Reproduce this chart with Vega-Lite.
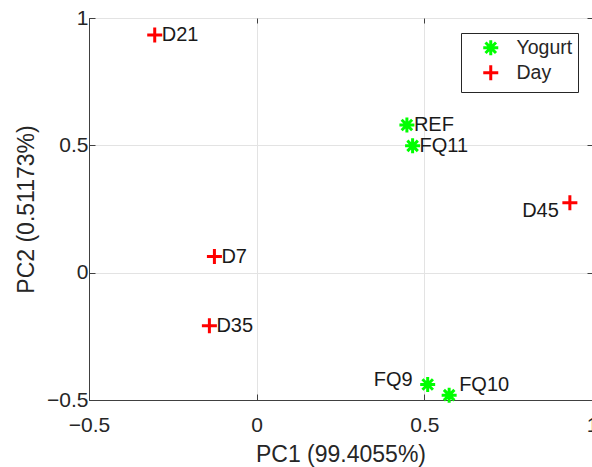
{
  "$schema": "https://vega.github.io/schema/vega-lite/v6.json",
  "width": 503,
  "height": 382,
  "autosize": {"type": "none"},
  "padding": {"left": 89, "top": 18, "right": 0, "bottom": 67},
  "background": "white",
  "config": {
    "font": "Liberation Sans",
    "view": {"stroke": "#404040", "strokeWidth": 1},
    "axis": {
      "domainColor": "#404040",
      "tickColor": "#404040",
      "labelColor": "#262626",
      "titleColor": "#262626",
      "gridColor": "#e3e3e3",
      "labelFontSize": 21,
      "titleFontSize": 23,
      "titleFontWeight": "normal",
      "labelFont": "Liberation Sans",
      "titleFont": "Liberation Sans"
    },
    "legend": {
      "labelFontSize": 19.5,
      "labelFont": "Liberation Sans",
      "labelColor": "#262626"
    }
  },
  "data": {
    "values": [
      {"name": "D21", "group": "Day", "pc1": -0.304, "pc2": 0.933},
      {"name": "REF", "group": "Yogurt", "pc1": 0.448, "pc2": 0.580},
      {"name": "FQ11", "group": "Yogurt", "pc1": 0.465, "pc2": 0.498},
      {"name": "D45", "group": "Day", "pc1": 0.934, "pc2": 0.275},
      {"name": "D7", "group": "Day", "pc1": -0.126, "pc2": 0.063},
      {"name": "D35", "group": "Day", "pc1": -0.141, "pc2": -0.208},
      {"name": "FQ9", "group": "Yogurt", "pc1": 0.510, "pc2": -0.439},
      {"name": "FQ10", "group": "Yogurt", "pc1": 0.574, "pc2": -0.481}
    ]
  },
  "encoding": {
    "x": {
      "field": "pc1", "type": "quantitative",
      "scale": {"domain": [-0.5, 1], "nice": false, "zero": false}
    },
    "y": {
      "field": "pc2", "type": "quantitative",
      "scale": {"domain": [-0.5, 1], "nice": false, "zero": false}
    }
  },
  "resolve": {"axis": {"x": "independent", "y": "independent"}},
  "layer": [
    {
      "mark": {"type": "point", "filled": false, "strokeWidth": 3, "size": 225, "opacity": 1},
      "encoding": {
        "x": {
          "field": "pc1", "type": "quantitative",
          "axis": {"title": "PC1 (99.4055%)", "values": [-0.5, 0, 0.5, 1], "format": "~g", "tickSize": -6, "labelPadding": 20, "titlePadding": 8, "grid": true, "labelFlush": false}
        },
        "y": {
          "field": "pc2", "type": "quantitative",
          "axis": {"title": "PC2 (0.51173%)", "values": [-0.5, 0, 0.5, 1], "format": "~g", "tickSize": -6, "labelPadding": 7, "titlePadding": 8, "grid": true, "labelFlush": false}
        },
        "color": {
          "field": "group", "type": "nominal",
          "scale": {"domain": ["Yogurt", "Day"], "range": ["#00ff00", "#ff0000"]},
          "legend": {
            "title": null,
            "orient": "none",
            "legendX": 372,
            "legendY": 15,
            "padding": 5,
            "symbolOffset": 15,
            "strokeColor": "#262626",
            "fillColor": "white",
            "symbolSize": 225,
            "symbolStrokeWidth": 3,
            "labelOffset": 16,
            "rowPadding": -3
          }
        },
        "shape": {
          "field": "group", "type": "nominal",
          "scale": {"domain": ["Yogurt", "Day"], "range": ["M-1,0H1M0,-1V1M-0.7,-0.7L0.7,0.7M-0.7,0.7L0.7,-0.7", "M-1,0H1M0,-1V1"]},
          "legend": {
            "title": null,
            "orient": "none",
            "legendX": 372,
            "legendY": 15,
            "padding": 5,
            "symbolOffset": 15,
            "strokeColor": "#262626",
            "fillColor": "white",
            "symbolSize": 225,
            "symbolStrokeWidth": 3,
            "labelOffset": 16,
            "rowPadding": -3
          }
        }
      }
    },
    {
      "transform": [{"filter": {"field": "name", "oneOf": ["D21", "REF", "FQ11", "D7", "D35"]}}],
      "mark": {"type": "text", "align": "left", "baseline": "middle", "dx": 7, "fontSize": 20, "color": "#1a1a1a"},
      "encoding": {
        "text": {"field": "name"},
        "x": {"field": "pc1", "type": "quantitative", "axis": {"orient": "top", "title": null, "labels": false, "domain": false, "grid": false, "values": [-0.5, 0, 0.5, 1], "tickSize": -5}},
        "y": {"field": "pc2", "type": "quantitative", "axis": {"orient": "right", "title": null, "labels": false, "domain": false, "grid": false, "values": [-0.5, 0, 0.5, 1], "tickSize": -5}}
      }
    },
    {
      "transform": [{"filter": {"field": "name", "equal": "D45"}}],
      "mark": {"type": "text", "align": "right", "baseline": "middle", "dx": -11, "dy": 8, "fontSize": 20, "color": "#1a1a1a"},
      "encoding": {"text": {"field": "name"}, "x": {"field": "pc1", "type": "quantitative", "axis": null}, "y": {"field": "pc2", "type": "quantitative", "axis": null}}
    },
    {
      "transform": [{"filter": {"field": "name", "equal": "FQ9"}}],
      "mark": {"type": "text", "align": "right", "baseline": "middle", "dx": -15, "dy": -4, "fontSize": 20, "color": "#1a1a1a"},
      "encoding": {"text": {"field": "name"}, "x": {"field": "pc1", "type": "quantitative", "axis": null}, "y": {"field": "pc2", "type": "quantitative", "axis": null}}
    },
    {
      "transform": [{"filter": {"field": "name", "equal": "FQ10"}}],
      "mark": {"type": "text", "align": "left", "baseline": "middle", "dx": 10, "dy": -10, "fontSize": 20, "color": "#1a1a1a"},
      "encoding": {"text": {"field": "name"}, "x": {"field": "pc1", "type": "quantitative", "axis": null}, "y": {"field": "pc2", "type": "quantitative", "axis": null}}
    }
  ]
}
